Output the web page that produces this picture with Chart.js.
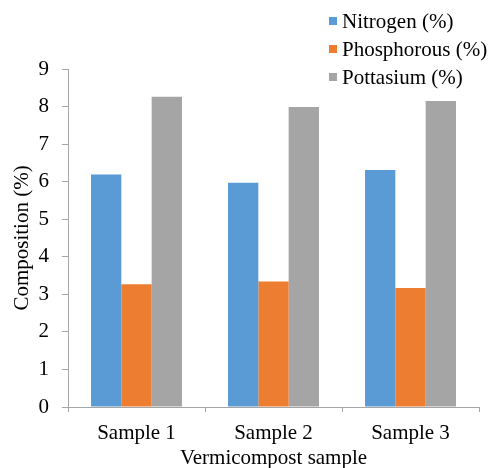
<!DOCTYPE html>
<html>
<head>
<meta charset="utf-8">
<script src="https://cdn.jsdelivr.net/npm/chart.js@4.4.1/dist/chart.umd.min.js"></script>
<style>
  html, body { margin: 0; padding: 0; background: #fff; }
  #wrap { width: 493px; height: 468px; position: relative; }
</style>
</head>
<body>
<div id="wrap"><canvas id="grafico"></canvas></div>
<script>
// dados
const amostras = ['Sample 1', 'Sample 2', 'Sample 3'];
const nitrogenio = [6.19, 5.97, 6.31];
const fosforo = [3.27, 3.34, 3.17];
const potassio = [8.26, 7.99, 8.15];
const ticksY = [0, 1, 2, 3, 4, 5, 6, 7, 8, 9];

const fonte = "'Liberation Serif', Tinos, 'DejaVu Serif', serif";
const corEixo = '#A6A6A6';

/* Legenda vertical no canto superior direito */
const legendaPlugin = {
  id: 'legendaVertical',
  afterDraw(chart) {
    const ctx = chart.ctx;
    ctx.save();
    ctx.font = '21px ' + fonte;
    ctx.textBaseline = 'middle';
    chart.data.datasets.forEach((ds, i) => {
      let y = 21 + i * 28;
      ctx.fillStyle = ds.backgroundColor;
      ctx.fillRect(329, y - 4, 8, 8);
      ctx.fillStyle = '#000';
      ctx.fillText(ds.label, 342, y + 1);
    });
    ctx.restore();
  }
};

Chart.defaults.font.family = fonte;

let ctx = document.getElementById('grafico');
let grafico = new Chart(ctx, {
  type: 'bar',
  data: {
    labels: amostras,
    datasets: [
      { label: 'Nitrogen (%)', data: nitrogenio, backgroundColor: '#5B9BD5' },
      { label: 'Phosphorous (%)', data: fosforo, backgroundColor: '#ED7D31' },
      { label: 'Pottasium (%)', data: potassio, backgroundColor: '#A5A5A5' }
    ]
  },
  options: {
    responsive: true,
    maintainAspectRatio: false,
    animation: false,
    layout: { padding: { top: 69, right: 14, left: 0, bottom: 0 } },
    datasets: { bar: { categoryPercentage: 0.664, barPercentage: 1.0 } },
    plugins: {
      legend: { display: false },
      tooltip: { enabled: false }
    },
    scales: {
      x: {
        grid: { drawOnChartArea: false, color: corEixo, tickLength: 5, offset: true },
        border: { color: corEixo, width: 1 },
        ticks: { color: '#000', font: { family: fonte, size: 21 }, padding: 9 },
        title: { display: true, text: 'Vermicompost sample', color: '#000',
                 font: { family: fonte, size: 21 }, padding: { top: 0, bottom: -3 } },
        afterFit: (escala) => { escala.height = 61; }
      },
      y: {
        min: 0,
        max: 9,
        afterBuildTicks: (escala) => { escala.ticks = ticksY.map(v => ({ value: v })); },
        grid: { drawOnChartArea: false, color: corEixo, tickLength: 6 },
        border: { color: corEixo, width: 1 },
        ticks: { color: '#000', font: { family: fonte, size: 21 }, padding: 13 },
        title: { display: true, text: 'Composition (%)', color: '#000',
                 font: { family: fonte, size: 21 }, padding: { top: 10, bottom: 0 } },
        afterFit: (escala) => { escala.width = 68; }
      }
    }
  },
  plugins: [legendaPlugin]
});
</script>
</body>
</html>
